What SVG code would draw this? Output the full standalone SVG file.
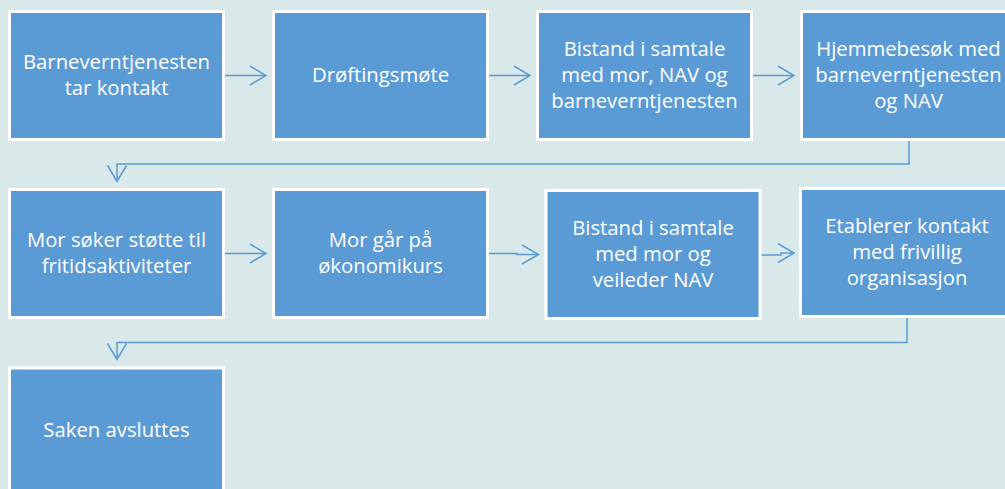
<svg xmlns="http://www.w3.org/2000/svg" width="1005" height="489" viewBox="0 0 1005 489">
<style>
.bg{fill:#D9E9E9}
.box{fill:#5B9BD5;stroke:#FFFFFF;stroke-width:3}
.lbl{font-family:"Open Sans","Liberation Sans",sans-serif;font-size:20.3px;fill:#FFFFFF;text-anchor:middle}
.con{fill:none;stroke:#5B9BD5;stroke-width:1.5}
.head{fill:none;stroke:#5B9BD5;stroke-width:1.5;stroke-linejoin:miter}
</style>
<rect class="bg" x="0" y="0" width="1005" height="489"/>
<g id="connectors">
<path class="con" d="M225,75.5 H265"/>
<polyline class="head" points="250,66 266,75.5 250,85"/>
<path class="con" d="M489,75.5 H529"/>
<polyline class="head" points="514,66 530,75.5 514,85"/>
<path class="con" d="M753,75.5 H793"/>
<polyline class="head" points="778,66 794,75.5 778,85"/>
<path class="con" d="M909,141 V164 H117 V181"/>
<polyline class="head" points="107.5,165.5 117,181.5 126.5,165.5"/>
<path class="con" d="M225,253.5 H265"/>
<polyline class="head" points="250,244 266,253.5 250,263"/>
<path class="con" d="M489,253.5 H517 V254.5 H537"/>
<polyline class="head" points="522,245 538.5,254.5 522,264"/>
<path class="con" d="M761,255 H781 V253 H793"/>
<polyline class="head" points="778,243.5 794,253 778,262.5"/>
<path class="con" d="M907,318 V342.5 H117 V359"/>
<polyline class="head" points="107.5,343.5 117,359.5 126.5,343.5"/>
</g>
<g id="n1"><rect class="box" x="9.5" y="11.5" width="214" height="128"/><text class="lbl" x="116.5" y="69">Barneverntjenesten</text><text class="lbl" x="116.5" y="95">tar kontakt</text></g>
<g id="n2"><rect class="box" x="273.5" y="11.5" width="214" height="128"/><text class="lbl" x="380.5" y="82">Drøftingsmøte</text></g>
<g id="n3"><rect class="box" x="537.5" y="11.5" width="214" height="128"/><text class="lbl" x="644.5" y="56">Bistand i samtale</text><text class="lbl" x="644.5" y="82">med mor, NAV og</text><text class="lbl" x="644.5" y="108">barneverntjenesten</text></g>
<g id="n4"><rect class="box" x="801.5" y="11.5" width="214" height="128"/><text class="lbl" x="908.5" y="56">Hjemmebesøk med</text><text class="lbl" x="908.5" y="82">barneverntjenesten</text><text class="lbl" x="908.5" y="108">og NAV</text></g>
<g id="n5"><rect class="box" x="9.5" y="189.5" width="214" height="128"/><text class="lbl" x="116.5" y="247">Mor søker støtte til</text><text class="lbl" x="116.5" y="273">fritidsaktiviteter</text></g>
<g id="n6"><rect class="box" x="273.5" y="189.5" width="214" height="128"/><text class="lbl" x="380.5" y="247">Mor går på</text><text class="lbl" x="380.5" y="273">økonomikurs</text></g>
<g id="n7"><rect class="box" x="546" y="190.5" width="214" height="128"/><text class="lbl" x="653" y="235">Bistand i samtale</text><text class="lbl" x="653" y="261">med mor og</text><text class="lbl" x="653" y="287">veileder NAV</text></g>
<g id="n8"><rect class="box" x="800.5" y="188.5" width="214" height="128"/><text class="lbl" x="907" y="233">Etablerer kontakt</text><text class="lbl" x="907" y="259">med frivillig</text><text class="lbl" x="907" y="285">organisasjon</text></g>
<g id="n9"><rect class="box" x="9.5" y="368" width="214" height="128"/><text class="lbl" x="116.5" y="437">Saken avsluttes</text></g>
</svg>
